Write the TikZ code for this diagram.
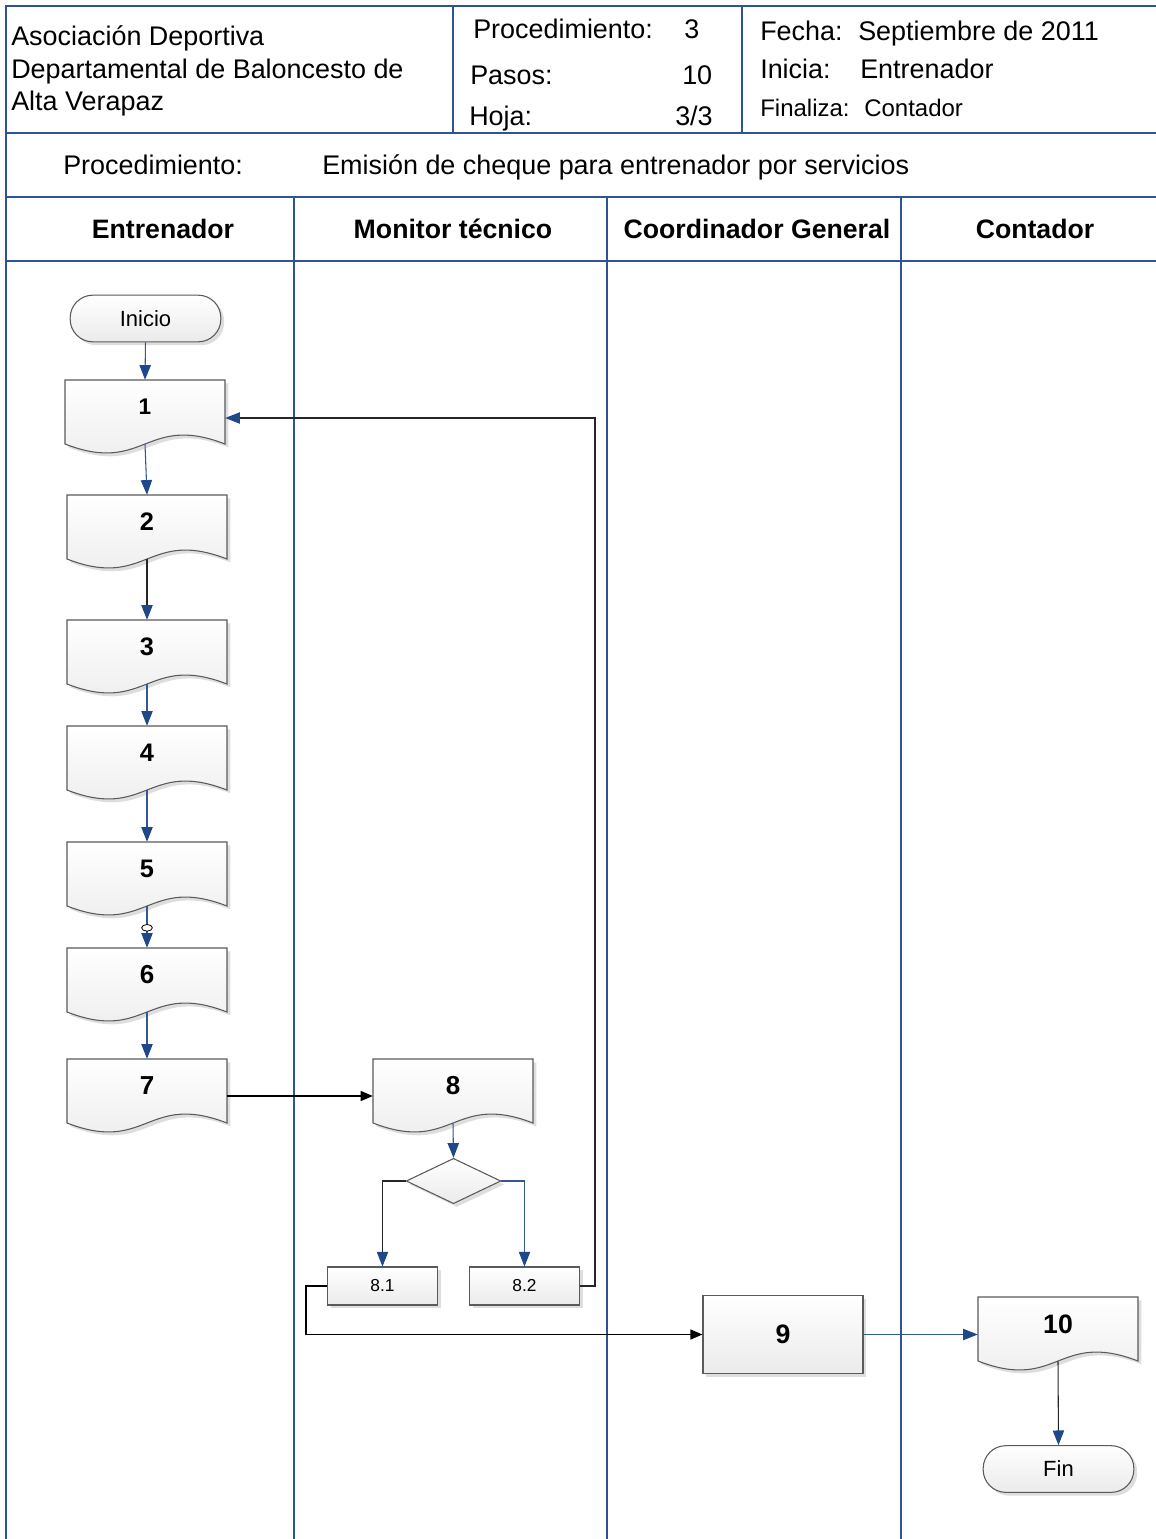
\documentclass[tikz,border=0pt]{standalone}
\usepackage{fontspec}
\setmainfont{Liberation Sans}
\usetikzlibrary{arrows.meta,shapes.geometric,shadows,calc}

\definecolor{lanecol}{RGB}{47,84,150}
\definecolor{connblue}{RGB}{50,88,150}
\definecolor{tipblue}{RGB}{30,72,135}
\definecolor{shapeline}{RGB}{90,90,90}

\tikzset{
  frame/.style={draw=lanecol, line width=0.8pt},
  hdr/.style={font=\fontsize{20.2}{24}\selectfont, inner sep=0pt, anchor=base west},
  hdrsmall/.style={font=\fontsize{18}{22}\selectfont, inner sep=0pt, anchor=base west},
  lanehead/.style={font=\fontsize{20}{24}\selectfont\bfseries, inner sep=0pt, anchor=base},
  stepnum/.style={font=\fontsize{19}{22}\selectfont\bfseries, inner sep=0pt},
  boxfill/.style={draw=shapeline, line width=0.8pt, top color=white, bottom color=black!8,
    drop shadow={shadow xshift=2.5pt, shadow yshift=-2.5pt, fill=black!13, opacity=1}},
  terminal/.style={boxfill, rounded corners=17pt, minimum width=113pt, minimum height=35pt,
    inner sep=0pt, font=\fontsize{16.5}{20}\selectfont},
  procbox/.style={boxfill, minimum width=120pt, minimum height=58pt, inner sep=0pt,
    font=\fontsize{20}{22}\selectfont\bfseries},
  smallbox/.style={boxfill, minimum width=82pt, minimum height=28.5pt, inner sep=0pt,
    font=\fontsize{13}{16}\selectfont},
  decision/.style={boxfill, diamond, minimum width=71pt, minimum height=34pt, inner sep=0pt},
  docholder/.style={minimum width=120pt, minimum height=48pt, inner sep=0pt},
  blueconn/.style={draw=connblue, line width=0.8pt, -{Triangle[length=11pt,width=8.5pt,color=tipblue]}},
  darkconn/.style={draw=black!85, line width=0.8pt, -{Triangle[length=11pt,width=8.5pt,color=tipblue]}},
  blackconn/.style={draw=black, line width=0.8pt, -{Triangle[length=9pt,width=7.5pt,color=black]}},
  jumpmark/.style={ellipse, draw=black, line width=0.6pt, fill=white, minimum width=8pt,
    minimum height=5pt, inner sep=0pt},
}

% Document symbol: flat top, wavy bottom; #1 name, (#2,#3) centre of body, #4 label, #5 label size
\newcommand\docstep[5]{%
  \path[boxfill] ({#2-80},{#3-32}) -- ({#2+80},{#3-32}) -- ({#2+80},{#3+32})
    .. controls ({#2},{#3+1}) and ({#2},{#3+63}) .. ({#2-80},{#3+32}) -- cycle;
  \node[docholder] (#1) at (#2,#3) {};
  \node[stepnum, font=\fontsize{#5}{22}\selectfont\bfseries] (#1-t) at (#2,{#3-5}) {#4};
}

\begin{document}
\begin{tikzpicture}[x=0.75pt, y=-0.75pt]
\useasboundingbox (0,0) rectangle (1156,1539);
\fill[white] (0,0) rectangle (1156,1539);

% ---- form frame and swimlanes
\draw[frame] (1156,6) -- (6,6) -- (6,1539);
\draw[frame] (6,133) -- (1156,133);
\draw[frame] (6,197) -- (1156,197);
\draw[frame] (6,261) -- (1156,261);
\draw[frame] (453,6) -- (453,133);
\draw[frame] (742,6) -- (742,133);
\draw[frame] (294,197) -- (294,1539);
\draw[frame] (607,197) -- (607,1539);
\draw[frame] (901,197) -- (901,1539);

% ---- header block
\node[hdr] (org1) at (11,45) {Asociación Deportiva};
\node[hdr] (org2) at (11,78) {Departamental de Baloncesto de};
\node[hdr] (org3) at (11,110) {Alta Verapaz};

\node[hdr] (proc-l) at (473,38) {Procedimiento:};
\node[hdr] (proc-v) at (684,38) {3};
\node[hdr] (pasos-l) at (470,84) {Pasos:};
\node[hdr] (pasos-v) at (682,84) {10};
\node[hdr] (hoja-l) at (469,125) {Hoja:};
\node[hdr] (hoja-v) at (675,125) {3/3};

\node[hdr] (fecha-l) at (760,40) {Fecha:};
\node[hdr] (fecha-v) at (858,40) {Septiembre de 2011};
\node[hdr] (ini-l) at (760,78) {Inicia:};
\node[hdr] (ini-v) at (860,78) {Entrenador};
\node[hdrsmall] (fin-l) at (760,116) {Finaliza:};
\node[hdrsmall] (fin-v) at (864,116) {Contador};

\node[hdr] (title-l) at (63,174) {Procedimiento:};
\node[hdr] (title-v) at (322,174) {Emisión de cheque para entrenador por servicios};

\node[lanehead] (lane1) at (163,238) {Entrenador};
\node[lanehead] (lane2) at (453,238) {Monitor técnico};
\node[lanehead] (lane3) at (757,238) {Coordinador General};
\node[lanehead] (lane4) at (1035,238) {Contador};

% ---- flow shapes
\node[terminal] (inicio) at (145.5,318.5) {Inicio};
\docstep{d1}{145}{412}{1}{17}
\docstep{d2}{147}{527}{2}{19}
\docstep{d3}{147}{652}{3}{19}
\docstep{d4}{147}{758}{4}{19}
\docstep{d5}{147}{874}{5}{19}
\docstep{d6}{147}{980}{6}{19.5}
\docstep{d7}{147}{1091}{7}{19.5}
\docstep{d8}{453}{1091}{8}{19.5}
\node[decision] (dec) at (453.5,1181) {};
\node[smallbox] (p81) at (382.5,1286) {8.1};
\node[smallbox] (p82) at (524.5,1286) {8.2};
\node[procbox] (p9) at (783,1334.5) {9};
\docstep{d10}{1058}{1329}{10}{20}
\node[terminal] (fin) at (1058.5,1469) {Fin};

% ---- connectors
\coordinate (loopx) at (595,0);
\coordinate (leftx) at (306,0);
\draw[blueconn] (inicio.south) -- (d1.north);
\draw[blueconn] (d1.south) -- (d2.north);
\draw[darkconn] (d2.south) -- (d3.north);
\draw[blueconn] (d3.south) -- (d4.north);
\draw[blueconn] (d4.south) -- (d5.north);
\draw[blueconn] (d5.south) -- node[jumpmark, pos=0.52] (jm) {} (d6.north);
\draw[blueconn] (d6.south) -- (d7.north);
\draw[blackconn] ($(d7.east)+(0,5)$) -- ($(d8.west)+(0,5)$);
\draw[blueconn] (d8.south) -- (dec.north);
\draw[darkconn] (dec.west) -| (p81.north);
\draw[blueconn] (dec.east) -| (p82.north);
\draw[darkconn] (p82.east) -- (p82.east -| loopx) |- ($(d1.east)+(0,6)$);
\draw[blackconn] (p81.west) -- (p81.west -| leftx) |- (p9.west);
\draw[blueconn] (p9.east) -- (p9.east -| d10.west);
\draw[darkconn] (d10.south) -- (fin.north);
\end{tikzpicture}
\end{document}
